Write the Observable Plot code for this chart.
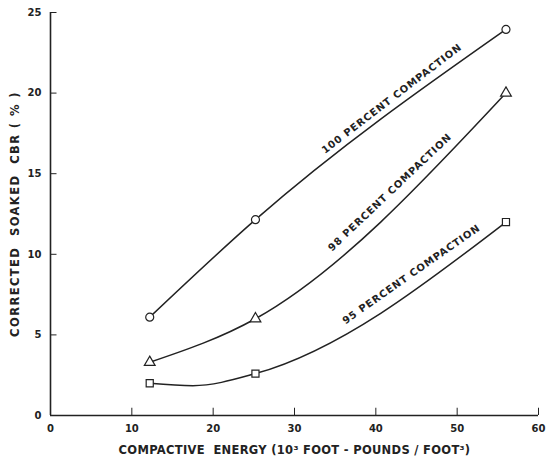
<!DOCTYPE html>
<html>
<head>
<meta charset="utf-8">
<script src="https://cdn.jsdelivr.net/npm/d3@7"></script>
<script src="https://cdn.jsdelivr.net/npm/@observablehq/plot@0.6"></script>
<style>
  html, body { margin: 0; padding: 0; background: #fff; }
  #chart svg { display: block; }
</style>
</head>
<body>
<div id="chart"></div>
<script>
// Compactive energy (10^3 ft-lb/ft^3)
const energy = [12.2, 25.2, 56];
// Corrected soaked CBR (%)
const cbr100 = [6.1, 12.15, 23.95];
const cbr98 = [3.3, 6.0, 20.0];
const cbr95 = [2.0, 2.6, 12.0];
const seriesNames = ["100 PERCENT COMPACTION", "98 PERCENT COMPACTION", "95 PERCENT COMPACTION"];
const symbols = ["circle", "triangle", "square"];
// Traced extra point of the hand-drawn 95% curve (its shallow dip)
const trace95x = [12.2, 17.5, 25.2, 56];
const trace95y = [2.0, 1.85, 2.6, 12.0];
const xTicks = [0, 10, 20, 30, 40, 50, 60];
const yTicks = [0, 5, 10, 15, 20, 25];
// Label anchors and angles
const labelX = [42.2, 42.0, 44.6];
const labelY = [19.5, 13.7, 8.6];
const labelAngle = [-37.5, -43.5, -35];

const seriesValues = [cbr100, cbr98, cbr95];
const points = seriesNames.flatMap((s, i) =>
  energy.map((e, j) => ({series: s, x: e, y: seriesValues[i][j], symbol: symbols[i]})));
const lines = [
  ...energy.map((e, j) => ({series: seriesNames[0], x: e, y: cbr100[j]})),
  ...energy.map((e, j) => ({series: seriesNames[1], x: e, y: cbr98[j]})),
  ...trace95x.map((e, j) => ({series: seriesNames[2], x: e, y: trace95y[j]}))
];
const labels = seriesNames.map((s, i) => ({text: s, x: labelX[i], y: labelY[i], angle: labelAngle[i]}));

const ink = "#222";
const font = "DejaVu Sans, sans-serif";

const chart = Plot.plot({
  width: 546,
  height: 462,
  marginLeft: 50,
  marginRight: 8,
  marginTop: 12,
  marginBottom: 47,
  style: {fontFamily: font, background: "#fff", color: ink},
  x: {domain: [0, 60]},
  y: {domain: [0, 25]},
  marks: [
    Plot.axisX({ticks: xTicks, tickSize: 0, tickPadding: 9, fontSize: 10, fontWeight: "bold", label: null}),
    Plot.axisY({ticks: yTicks, tickSize: 0, tickPadding: 9, fontSize: 10, fontWeight: "bold", label: null}),
    Plot.axisX({ticks: [], fontSize: 11.5, fontWeight: "bold",
      label: "COMPACTIVE  ENERGY (10³ FOOT - POUNDS / FOOT³)", labelAnchor: "center", labelArrow: "none", labelOffset: 38}),
    Plot.axisY({ticks: [], fontSize: 11.5, fontWeight: "bold",
      label: "CORRECTED  SOAKED  CBR ( % )", labelAnchor: "center", labelArrow: "none", labelOffset: 40}),
    Plot.ruleX(xTicks, {x: d => d, y1: 0, y2: 0.45, stroke: ink, strokeWidth: 1}),
    Plot.ruleY(yTicks, {y: d => d, x1: 0, x2: 0.8, stroke: ink, strokeWidth: 1}),
    Plot.ruleX([0], {stroke: ink, strokeWidth: 1.6}),
    Plot.ruleY([0], {stroke: ink, strokeWidth: 1.6}),
    Plot.line(lines, {x: "x", y: "y", z: "series", curve: "monotone-x", stroke: ink, strokeWidth: 1.5}),
    Plot.dot(points, {x: "x", y: "y", symbol: "symbol", r: 4, fill: "white", stroke: ink, strokeWidth: 1.2}),
    Plot.text(labels, {x: "x", y: "y", text: "text", rotate: "angle", fontSize: 10, fontWeight: "bold",
      fill: ink, textAnchor: "middle", lineAnchor: "bottom", fontFamily: font})
  ]
});
const svg = d3.select(chart);
svg.selectAll("g[aria-label='text'] text").attr("letter-spacing", "0.9px");
svg.selectAll("g[aria-label='x-axis label'] text").attr("letter-spacing", "0.3px");
svg.selectAll("g[aria-label='y-axis label'] text").attr("letter-spacing", "1.4px");
document.getElementById("chart").appendChild(chart);
</script>
</body>
</html>
